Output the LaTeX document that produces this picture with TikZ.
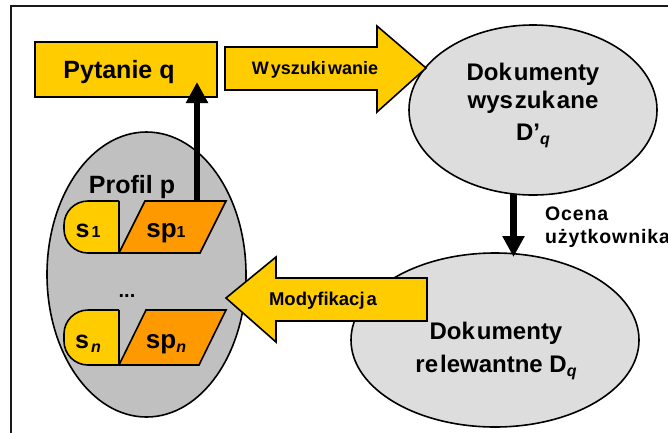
\documentclass[tikz,border=0pt]{standalone}
\usepackage{fontspec}
\setmainfont{Liberation Sans}
\usetikzlibrary{arrows.meta,shapes.geometric}
\definecolor{boxyellow}{HTML}{FFCC00}
\definecolor{boxorange}{HTML}{FF9900}
\definecolor{docgray}{HTML}{DDDDDD}
\definecolor{profgray}{HTML}{C0C0C0}
\newcommand\fs[1]{\fontsize{#1}{#1}\selectfont}
\newcommand\subup[1]{{\fs{16}#1}}
\newcommand\subit[1]{\raisebox{-4pt}{\fs{16}\itshape #1}}
\newcommand\gp{\kern2pt}
\tikzset{
  outline/.style={draw=black, line width=1.6pt, line join=miter},
  docell/.style={ellipse, outline, fill=docgray, inner sep=0pt},
  profell/.style={ellipse, outline, fill=profgray, inner sep=0pt},
  yellowbox/.style={rectangle, outline, fill=boxyellow, inner sep=0pt},
  txt/.style={font=\bfseries\fs{#1}, inner sep=0pt, text=black},
  widetxt/.style={font={\bfseries\fs{#1}\addfontfeatures{LetterSpace=4.5}}, inner sep=0pt, text=black},
  bigtxt/.style={txt=24, align=center},
  thickarrow/.style={line width=6.5pt, -{Triangle[width=21pt,length=21pt]}},
}
\begin{document}
\begin{tikzpicture}[x=1pt,y=-1pt]
\useasboundingbox (0,0) rectangle (668,432);
\clip (0,0) rectangle (668,432);

% outer frame (continues past the right and bottom edges)
\draw[line width=2pt, draw=black!90] (11,6) rectangle (720,480);

% document sets and the profile
\node[docell, minimum width=248, minimum height=170] (found) at (533,110) {};
\node[docell, minimum width=288, minimum height=174] (relevant) at (495,340) {};
\node[profell, minimum width=199, minimum height=285] (profile) at (146.5,274.5) {};

% query box
\node[yellowbox, minimum width=182, minimum height=55] (query) at (126,69.5) {};
\node[txt=25, anchor=base] (querytxt) at (119,78) {Pytanie q};

% block arrow: retrieval
\draw[outline, fill=boxyellow]
  (225,47) -- (377,47) -- (377,26) -- (426,68) -- (377,112) -- (377,90) -- (225,90) -- cycle;
\node[txt=18, anchor=base] (retr) at (315,74) {W\gp yszuki\gp wanie};

% block arrow: modification
\draw[outline, fill=boxyellow]
  (427,278) -- (276,278) -- (276,257) -- (226,298) -- (276,342) -- (276,321) -- (427,321) -- cycle;
\node[txt=18.5, anchor=base] (modif) at (323,305) {Modyfikacj\gp a};

% profile contents
\node[txt=25, anchor=base] (proftxt) at (132,193) {Profil p};

\draw[outline, fill=boxyellow, rounded corners=24]
  (119,201) -- (64,201) -- (64,253) -- (119,253);
\draw[outline] (119,201) -- (119,253);
\draw[outline, fill=boxorange]
  (119,253) -- (145,201) -- (226,201) -- (200,253) -- cycle;
\node[txt=25, anchor=base] (s1) at (88,237) {s\gp\subup{1}};
\node[txt=26, anchor=base] (sp1) at (166,237) {sp\subup{1}};
\coordinate (sp1top) at (197,201);

\node[txt=20, anchor=base] (dots) at (127,297) {...};

\draw[outline, fill=boxyellow, rounded corners=24]
  (119,310) -- (64,310) -- (64,365) -- (119,365);
\draw[outline] (119,310) -- (119,365);
\draw[outline, fill=boxorange]
  (119,365) -- (146,310) -- (226,310) -- (199,365) -- cycle;
\node[txt=25, anchor=base] (sn) at (88,348) {s\gp\subit{n}};
\node[txt=26, anchor=base] (spn) at (166,348) {sp\subit{n}};

% document labels
\node[bigtxt, anchor=base] (foundtxt1) at (533,80) {Dok\gp umenty};
\node[bigtxt, anchor=base] (foundtxt2) at (533,108) {wys\gp zuk\gp ane};
\node[bigtxt, anchor=base] (foundtxt3) at (533,140) {D’\subit{q}};
\node[bigtxt, anchor=base] (reltxt1) at (496,339) {Dok\gp umenty};
\node[bigtxt, anchor=base] (reltxt2) at (496,372) {re\gp lewantne D\subit{q}};

% user assessment
\coordinate (evalstart) at (513.5,194);
\coordinate (evalend) at (513.5,257);
\draw[thickarrow] (evalstart) -- (evalend);
\node[widetxt=19.5, anchor=base west] (eval1) at (545,220) {Ocena};
\node[widetxt=19.5, anchor=base west] (eval2) at (545,243) {użytkownika};

% profile feeds the query
\coordinate (queryin) at (197,82);
\draw[thickarrow] (sp1top) -- (queryin);
\end{tikzpicture}
\end{document}
